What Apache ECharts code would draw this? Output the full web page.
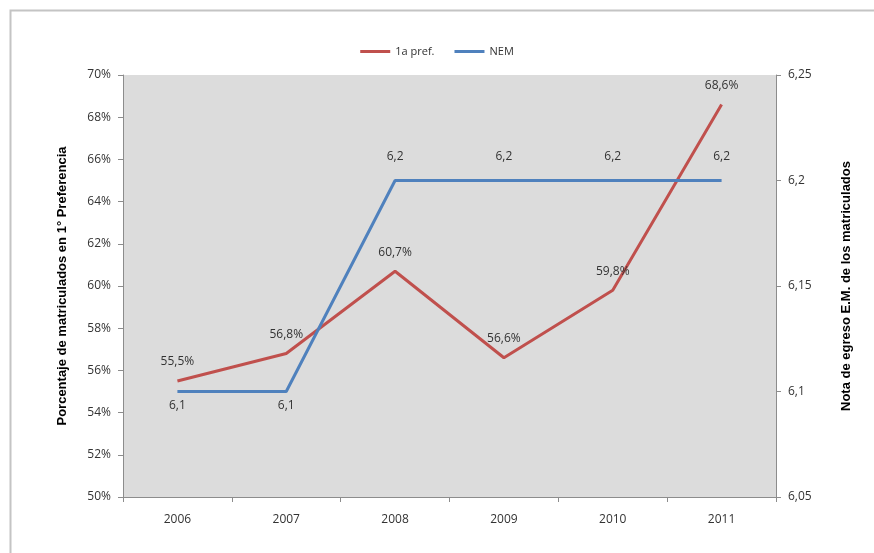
<!DOCTYPE html>
<html>
<head>
<meta charset="utf-8">
<script src="https://cdn.jsdelivr.net/npm/echarts@6/dist/echarts.min.js"></script>
<style>
html,body{margin:0;padding:0;background:#fff;}
#c{width:874px;height:553px;}
</style>
</head>
<body>
<div id="c"></div>
<script>
const categories = ['2006','2007','2008','2009','2010','2011'];
const prefValues = [55.5, 56.8, 60.7, 56.6, 59.8, 68.6];
const nemValues = [6.1, 6.1, 6.2, 6.2, 6.2, 6.2];
const nemLabelPos = ['bottom','bottom','top','top','top','top'];
const seriesNames = ['1a pref.', 'NEM'];
const seriesColors = ['#c0504d', '#4f81bd'];
const leftTitle = 'Porcentaje de matriculados en 1° Preferencia';
const rightTitle = 'Nota de egreso E.M. de los matriculados';

const fmtComma = v => String(v).replace('.', ',');
const tickFont = '"Open Sans", "Liberation Sans", sans-serif';
const clear = 'rgba(0,0,0,0)';

const chart = echarts.init(document.getElementById('c'));
chart.setOption({
  animation: false,
  backgroundColor: '#ffffff',
  graphic: [{
    type: 'rect', left: 8, top: 8,
    shape: { width: 900, height: 600 },
    style: { fill: 'none', stroke: '#c4c4c4', lineWidth: 2 },
    silent: true
  }],
  legend: {
    top: 41, left: 'center',
    itemWidth: 30, itemHeight: 3, itemGap: 20,
    icon: 'rect',
    textStyle: { fontFamily: tickFont, fontSize: 11, color: '#333' },
    data: seriesNames.map((n, i) => ({ name: n, itemStyle: { color: seriesColors[i], opacity: 1 } }))
  },
  grid: {
    left: 123, right: 98, top: 75, bottom: 56,
    show: true, backgroundColor: '#dcdcdc', borderWidth: 0
  },
  xAxis: {
    type: 'category', data: categories, boundaryGap: true,
    axisLine: { lineStyle: { color: '#8c8c8c', width: 1 } },
    axisTick: { show: true, alignWithLabel: false, length: 5, lineStyle: { color: '#8c8c8c' } },
    axisLabel: { margin: 17, fontFamily: tickFont, fontSize: 12, color: '#333' },
    splitLine: { show: false }
  },
  yAxis: [{
    type: 'value', min: 50, max: 70, interval: 2, position: 'left',
    name: leftTitle, nameLocation: 'middle', nameGap: 54, nameRotate: 90,
    nameTextStyle: { fontFamily: '"Liberation Sans", Arial, sans-serif', fontWeight: 'bold', fontSize: 13, color: '#000' },
    axisLine: { show: true, lineStyle: { color: '#8c8c8c' } },
    axisTick: { show: true, length: 5, lineStyle: { color: '#8c8c8c' } },
    axisLabel: { margin: 12, fontFamily: tickFont, fontSize: 12, color: '#333', formatter: v => v + '%' },
    splitLine: { show: false }
  }, {
    type: 'value', min: 6.05, max: 6.25, interval: 0.05, position: 'right',
    name: rightTitle, nameLocation: 'middle', nameGap: 64, nameRotate: 90,
    nameTextStyle: { fontFamily: '"Liberation Sans", Arial, sans-serif', fontWeight: 'bold', fontSize: 13, color: '#000' },
    axisLine: { show: true, lineStyle: { color: '#8c8c8c' } },
    axisTick: { show: true, length: 5, lineStyle: { color: '#8c8c8c' } },
    axisLabel: { margin: 12, fontFamily: tickFont, fontSize: 12, color: '#333',
      formatter: v => (Math.round(v * 100) / 100).toString().replace('.', ',') },
    splitLine: { show: false }
  }],
  series: [{
    name: seriesNames[0], type: 'line', yAxisIndex: 0,
    data: prefValues,
    color: seriesColors[0],
    lineStyle: { width: 3, color: seriesColors[0] },
    symbol: 'circle', symbolSize: 2, showSymbol: true,
    itemStyle: { color: clear, borderWidth: 0 },
    label: { show: true, position: 'top', distance: 12, fontFamily: tickFont, fontSize: 12, color: '#333',
      formatter: p => fmtComma(p.value) + '%' }
  }, {
    name: seriesNames[1], type: 'line', yAxisIndex: 1,
    data: nemValues.map((v, i) => ({ value: v, label: { position: nemLabelPos[i], distance: nemLabelPos[i] === 'top' ? 17 : 7 } })),
    color: seriesColors[1],
    lineStyle: { width: 3, color: seriesColors[1] },
    symbol: 'circle', symbolSize: 2, showSymbol: true,
    itemStyle: { color: clear, borderWidth: 0 },
    label: { show: true, fontFamily: tickFont, fontSize: 12, color: '#333',
      formatter: p => fmtComma(p.value) }
  }]
});
</script>
</body>
</html>
